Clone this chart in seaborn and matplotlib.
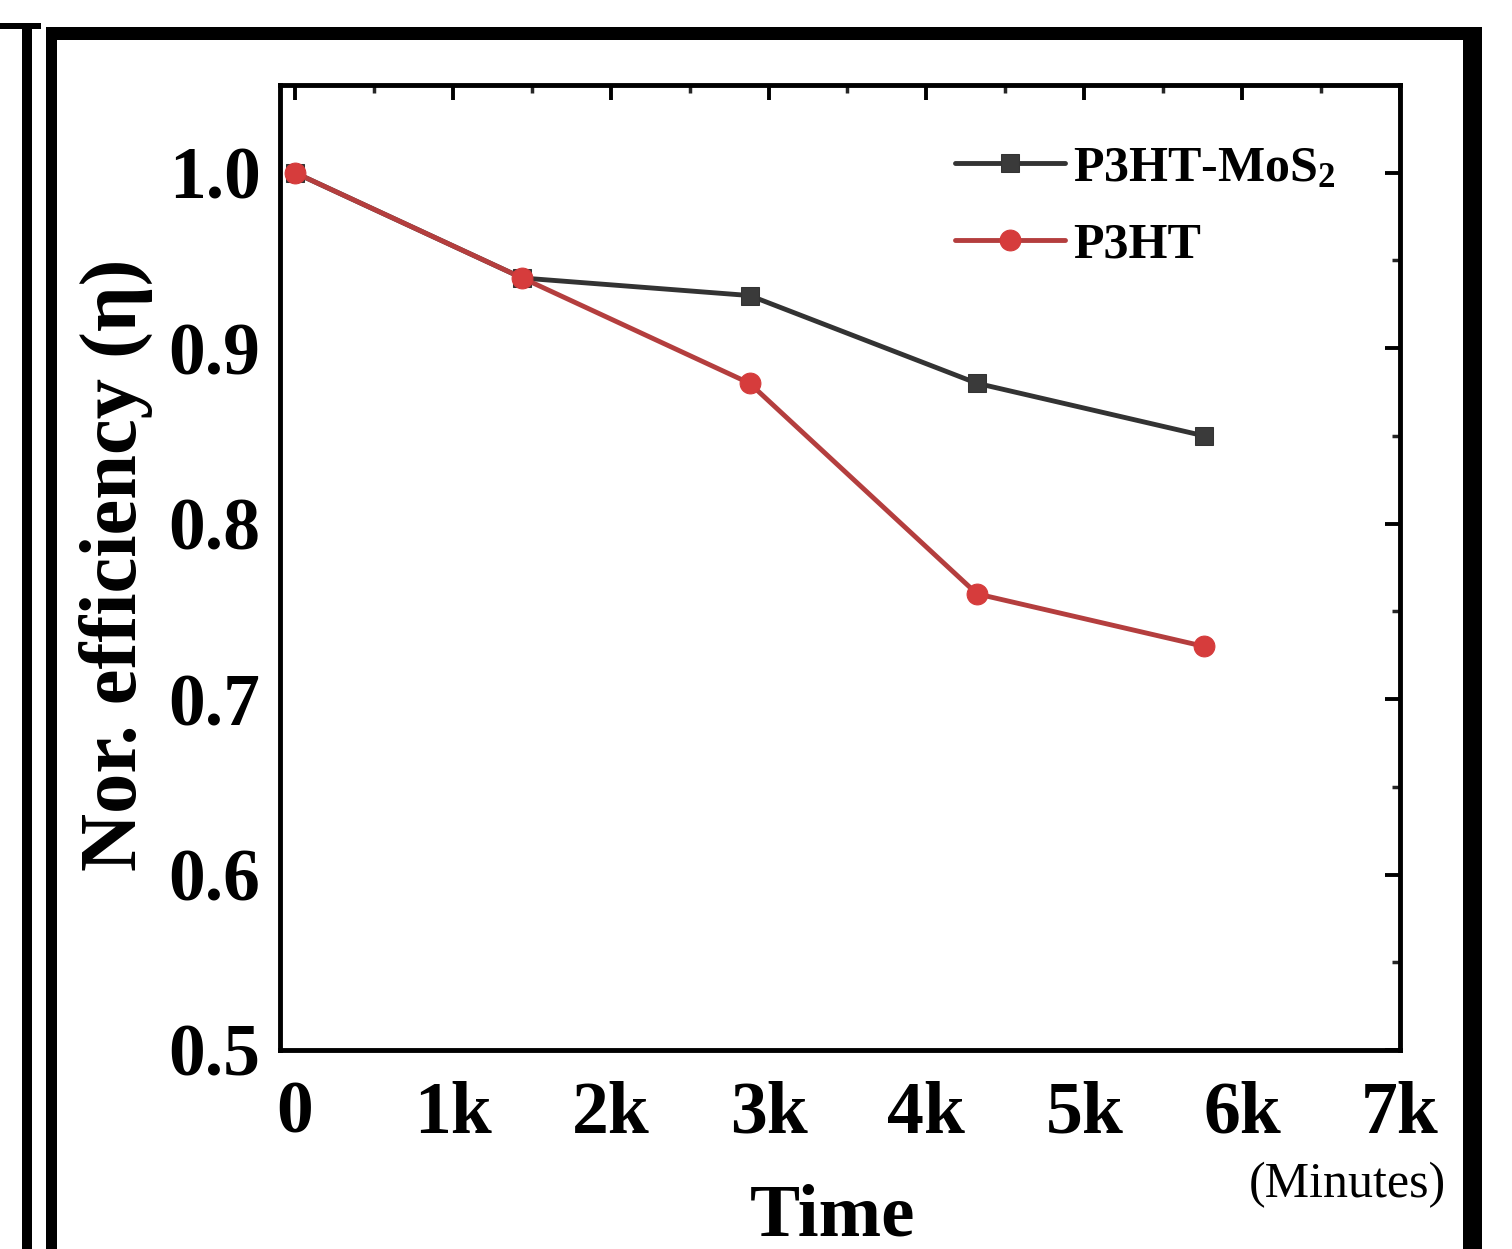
import matplotlib
matplotlib.use("Agg")
import matplotlib.pyplot as plt
from matplotlib.patches import Rectangle
from matplotlib.ticker import MultipleLocator, FixedLocator, FixedFormatter
import seaborn as sns
import pandas as pd

# Stability data: normalized efficiency over time (minutes)
time_min = [0, 1440, 2880, 4320, 5760]
eff_mos2 = [1.00, 0.94, 0.93, 0.88, 0.85]
eff_p3ht = [1.00, 0.94, 0.88, 0.76, 0.73]
series_names = ["P3HT-MoS$_2$", "P3HT"]
x_ticks = [0, 1000, 2000, 3000, 4000, 5000, 6000, 7000]
x_tick_labels = ["0", "1k", "2k", "3k", "4k", "5k", "6k", "7k"]
y_ticks = [0.5, 0.6, 0.7, 0.8, 0.9, 1.0]
y_tick_labels = ["0.5", "0.6", "0.7", "0.8", "0.9", "1.0"]

sns.set_theme(style="white")
plt.rcParams["font.family"] = ["Liberation Serif", "DejaVu Serif"]
plt.rcParams["font.weight"] = "bold"
plt.rcParams["axes.labelcolor"] = "black"
plt.rcParams["text.color"] = "black"
plt.rcParams["mathtext.fontset"] = "custom"
plt.rcParams["mathtext.rm"] = "Liberation Serif:bold"
plt.rcParams["mathtext.it"] = "Liberation Serif:bold"
plt.rcParams["mathtext.bf"] = "Liberation Serif:bold"
plt.rcParams["mathtext.default"] = "rm"

W, H = 1512, 1249
fig = plt.figure(figsize=(W / 100, H / 100), dpi=100)
fig.patch.set_facecolor("white")

# axes box in pixel terms: left 280, right 1400, top 85, bottom 1050
ax = fig.add_axes([280 / W, 1 - 1050 / H, 1120 / W, 965 / H])

df_mos2 = pd.DataFrame({"t": time_min, "eff": eff_mos2})
df_p3ht = pd.DataFrame({"t": time_min, "eff": eff_p3ht})

sns.lineplot(data=df_mos2, x="t", y="eff", ax=ax, color="#333333", linewidth=3.5,
             marker="s", markersize=13, markeredgecolor="#333333",
             markerfacecolor="#3a3a3a", label=series_names[0])
sns.lineplot(data=df_p3ht, x="t", y="eff", ax=ax, color="#b43e3e", linewidth=3.5,
             marker="o", markersize=15, markeredgecolor="#d43a3a",
             markerfacecolor="#d63c3c", label=series_names[1])

ax.set_xlim(-95, 7000)
ax.set_ylim(0.5, 1.05)

ax.xaxis.set_major_locator(FixedLocator(x_ticks))
ax.xaxis.set_major_formatter(FixedFormatter(x_tick_labels))
ax.xaxis.set_minor_locator(MultipleLocator(500))
ax.yaxis.set_major_locator(FixedLocator(y_ticks))
ax.yaxis.set_major_formatter(FixedFormatter(y_tick_labels))
ax.yaxis.set_minor_locator(MultipleLocator(0.05))

ax.tick_params(axis="both", which="major", direction="in", length=11, width=2.8,
               top=True, right=True, labelsize=53, colors="black")
ax.tick_params(axis="both", which="minor", direction="in", length=6, width=2.5,
               top=True, right=True)
ax.tick_params(axis="x", which="major", pad=22)
ax.tick_params(axis="y", which="major", pad=14)
for lab in ax.get_xticklabels() + ax.get_yticklabels():
    lab.set_fontweight("bold")

for sp in ax.spines.values():
    sp.set_visible(True)
    sp.set_color("black")
    sp.set_linewidth(3.5)

ax.set_xlabel("Time", fontsize=54, fontweight="bold", color="black")
ax.set_ylabel("Nor. efficiency (\u03b7)", fontsize=58, fontweight="bold", color="black")
ax.xaxis.set_label_coords(0.493, -0.138)
ax.yaxis.set_label_coords(-0.113, 0.503)

ax.text(1347 / W, 1 - 1185 / H, "(Minutes)", transform=fig.transFigure,
        fontsize=36, fontweight="normal", ha="center", va="center")

leg = ax.legend(loc="upper left", bbox_to_anchor=(0.603, 0.937), frameon=False,
                fontsize=36, handlelength=2.2, handletextpad=0.15,
                borderpad=0, borderaxespad=0, labelspacing=0.62)
for t in leg.get_texts():
    t.set_fontweight("bold")

# Panel frame lines
def box(x0, y0, x1, y1, color="black"):
    fig.add_artist(Rectangle((x0 / W, 1 - y1 / H), (x1 - x0) / W, (y1 - y0) / H,
                             transform=fig.transFigure, facecolor=color,
                             edgecolor="none", zorder=10))

box(0, 23, 41, 29)
box(22, 23, 32, H)
box(46, 27, 1482, 40)
box(46, 27, 57, H)
box(1463, 27, 1482, H)

fig.savefig("out.png", dpi=100, facecolor="white")
